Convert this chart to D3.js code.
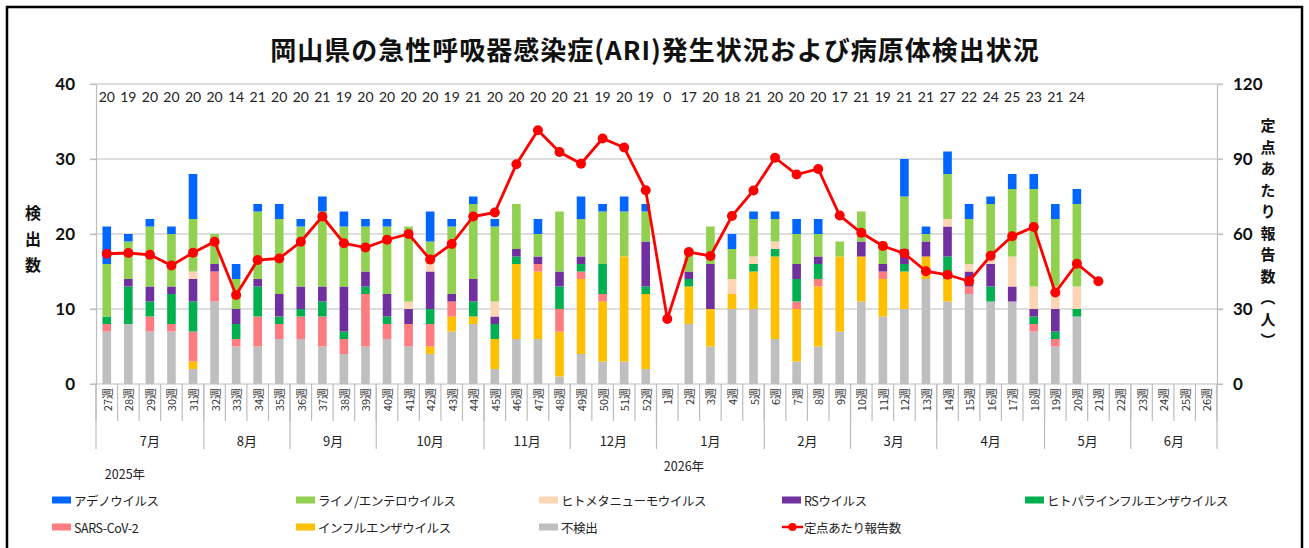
<!DOCTYPE html>
<html>
<head>
<meta charset="utf-8">
<script src="https://cdn.jsdelivr.net/npm/d3@7"></script>
<style>
  body { margin: 0; background: #fff; }
  svg { display: block; font-family: "Noto Sans CJK JP", sans-serif; }
  .num { font-family: Lato, "Noto Sans", sans-serif; }
</style>
</head>
<body>
<svg id="chart" width="1309" height="548"></svg>
<script>
// Weeks (2025 wk27 -> 2026 wk26)
const weeks = ["27週","28週","29週","30週","31週","32週","33週","34週","35週","36週","37週","38週","39週",
  "40週","41週","42週","43週","44週","45週","46週","47週","48週","49週","50週","51週","52週",
  "1週","2週","3週","4週","5週","6週","7週","8週","9週","10週","11週","12週","13週",
  "14週","15週","16週","17週","18週","19週","20週","21週","22週","23週","24週","25週","26週"];

const monthLabels = ["7月","8月","9月","10月","11月","12月","1月","2月","3月","4月","5月","6月"];
const monthWeeks = [5, 4, 4, 5, 4, 4, 5, 4, 4, 5, 4, 4];

// Number of specimens per week (top row)
const sampleCounts = [20,19,20,20,20,20,14,21,20,20,21,19,20,20,20,20,19,21,20,20,20,20,21,19,20,19,
  0,17,20,18,21,20,20,20,17,21,19,21,21,27,22,24,25,23,21,24,null,null,null,null,null,null];

// Stacked series, bottom to top
const notDetected = [7,8,7,7,2,11,5,5,6,6,5,4,5,6,5,4,7,8,2,6,6,1,4,3,3,2,
  0,8,5,10,10,6,3,5,7,11,9,10,14,11,12,11,11,7,5,9,0,0,0,0,0,0];
const influenza = [0,0,0,0,1,0,0,0,0,0,0,0,0,0,0,1,2,1,4,10,9,6,10,8,14,10,
  0,5,5,2,5,11,7,8,10,6,5,5,3,3,0,0,0,0,0,0,0,0,0,0,0,0];
const sarsCov2 = [1,0,2,1,4,4,1,4,2,3,4,2,7,2,3,3,2,0,0,0,1,3,1,1,0,0,
  0,0,0,0,0,0,1,1,0,0,1,0,0,0,1,0,0,1,1,0,0,0,0,0,0,0];
const parainfluenza = [1,5,2,4,4,0,2,4,1,1,2,1,1,1,0,2,0,2,2,1,0,3,1,4,0,1,
  0,1,0,0,1,1,3,2,0,0,0,1,0,3,0,2,0,1,1,1,0,0,0,0,0,0];
const rsVirus = [0,1,2,1,3,1,2,1,3,3,2,6,2,3,2,5,1,3,1,1,1,2,1,0,0,6,
  0,1,6,0,0,0,2,1,0,2,1,2,2,4,2,3,2,1,3,0,0,0,0,0,0,0];
const metapneumo = [0,0,0,0,1,0,0,0,0,0,0,0,0,0,1,1,0,0,2,0,0,0,0,0,0,0,
  0,0,0,2,1,1,0,0,0,0,0,0,0,1,1,1,4,3,3,3,0,0,0,0,0,0];
const rhinoEntero = [7,5,8,7,7,4,4,9,10,8,10,8,6,9,10,3,9,10,10,6,3,8,5,7,6,4,
  0,3,5,4,5,3,4,3,2,4,3,7,1,6,6,7,9,13,9,11,0,0,0,0,0,0];
const adeno = [5,1,1,1,6,0,2,1,2,1,2,2,1,1,0,4,1,1,1,0,2,0,3,1,2,1,
  0,0,0,2,1,1,2,2,0,0,0,5,1,3,2,1,2,2,2,2,0,0,0,0,0,0];

// Reports per sentinel site (right axis)
const perSite = [52.1,52.4,51.7,47.4,52.5,56.9,35.6,49.6,50.2,56.9,67.0,56.3,54.6,57.7,60.0,49.8,56.0,67.0,68.6,87.9,101.5,92.8,88.1,98.2,94.6,77.5,
  26.0,52.8,51.2,67.2,77.4,90.5,83.8,86.0,67.4,60.5,55.2,52.2,45.1,43.7,41.1,51.3,59.1,62.8,36.6,48.1,41.1,null,null,null,null,null];

const seriesKeys = ["notDetected","influenza","sarsCov2","parainfluenza","rsVirus","metapneumo","rhinoEntero","adeno"];
const seriesData = { notDetected, influenza, sarsCov2, parainfluenza, rsVirus, metapneumo, rhinoEntero, adeno };
const seriesColors = {
  adeno: "#0066FF", rhinoEntero: "#92D050", metapneumo: "#FCD5B5", rsVirus: "#7030A0",
  parainfluenza: "#00B050", sarsCov2: "#FF7C80", influenza: "#FFC000", notDetected: "#BFBFBF"
};

const table = weeks.map((w, i) => {
  const row = { week: w };
  seriesKeys.forEach((k) => (row[k] = seriesData[k][i]));
  return row;
});

const svg = d3.select("#chart");
const plotL = 96, plotR = 1217, plotT = 84, plotB = 384;
const gridColor = "#BDBDBD";

const x = d3.scaleBand().domain(weeks).range([plotL, plotR]);
const y = d3.scaleLinear().domain([0, 40]).range([plotB, plotT]);
const y2 = d3.scaleLinear().domain([0, 120]).range([plotB, plotT]);
const barW = x.bandwidth() * 0.4;
const cx = (w) => x(w) + x.bandwidth() / 2;

// outer frame
svg.append("rect")
  .attr("x", 7).attr("y", 7).attr("width", 1295).attr("height", 580)
  .attr("fill", "none").attr("stroke", "#000").attr("stroke-width", 2.5);

// title
svg.append("text")
  .attr("x", 655).attr("y", 60)
  .attr("text-anchor", "middle")
  .attr("font-size", 26).attr("font-weight", "bold").attr("fill", "#111")
  .attr("letter-spacing", 1)
  .text("岡山県の急性呼吸器感染症(ARI)発生状況および病原体検出状況");

// gridlines
svg.append("g")
  .selectAll("line")
  .data(y.ticks(4))
  .enter()
  .append("line")
  .attr("x1", 90).attr("x2", plotR + 6)
  .attr("y1", (d) => y(d)).attr("y2", (d) => y(d))
  .attr("stroke", gridColor).attr("stroke-width", 1.2);

// left axis
const leftAxis = svg.append("g")
  .attr("transform", `translate(${plotL},0)`)
  .call(d3.axisLeft(y).ticks(4).tickSize(6).tickSizeOuter(0).tickPadding(15));
leftAxis.selectAll("text").attr("class", "num").attr("font-size", 17).attr("font-weight", "bold").attr("fill", "#111");

// right axis
const rightAxis = svg.append("g")
  .attr("transform", `translate(${plotR},0)`)
  .call(d3.axisRight(y2).tickValues([0, 30, 60, 90, 120]).tickSize(6).tickSizeOuter(0).tickPadding(10));
rightAxis.selectAll("text").attr("class", "num").attr("font-size", 17).attr("font-weight", "bold").attr("fill", "#111");
svg.selectAll(".domain, .tick line").attr("stroke", gridColor).attr("stroke-width", 1.2);

// axis titles (vertical)
svg.append("text")
  .attr("x", 33).attr("y", 205)
  .style("writing-mode", "vertical-rl")
  .attr("font-size", 16).attr("font-weight", "bold").attr("fill", "#111")
  .attr("letter-spacing", 10)
  .text("検出数");
svg.append("text")
  .attr("x", 1268).attr("y", 118)
  .style("writing-mode", "vertical-rl")
  .attr("font-size", 15).attr("font-weight", "bold").attr("fill", "#111")
  .attr("letter-spacing", 6.5)
  .text("定点あたり報告数（人）");

// stacked bars
const stacked = d3.stack().keys(seriesKeys)(table);
svg.append("g")
  .selectAll("g")
  .data(stacked)
  .enter()
  .append("g")
  .attr("fill", (s) => seriesColors[s.key])
  .selectAll("rect")
  .data((s) => s.filter((d) => d[1] > d[0]))
  .enter()
  .append("rect")
  .attr("x", (d) => cx(d.data.week) - barW / 2)
  .attr("width", barW)
  .attr("y", (d) => y(d[1]))
  .attr("height", (d) => y(d[0]) - y(d[1]));

// specimen counts along the top
svg.append("g")
  .selectAll("text")
  .data(weeks.filter((w, i) => sampleCounts[i] != null))
  .enter()
  .append("text")
  .attr("class", "num")
  .attr("x", (w) => cx(w))
  .attr("y", 102)
  .attr("text-anchor", "middle")
  .attr("font-size", 14).attr("fill", "#222")
  .text((w) => sampleCounts[weeks.indexOf(w)]);

// per-site line
const line = d3.line()
  .defined((d) => d != null)
  .x((d, i) => cx(weeks[i]))
  .y((d) => y2(d));
svg.append("path")
  .datum(perSite)
  .attr("d", line)
  .attr("fill", "none").attr("stroke", "#FF0000").attr("stroke-width", 2.8);
svg.append("g")
  .selectAll("circle")
  .data(weeks.filter((w, i) => perSite[i] != null))
  .enter()
  .append("circle")
  .attr("cx", (w) => cx(w))
  .attr("cy", (w) => y2(perSite[weeks.indexOf(w)]))
  .attr("r", 5)
  .attr("fill", "#FF0000");

// week category labels and dividers
const weekAxis = svg.append("g");
weekAxis.selectAll("line")
  .data(weeks.map((w) => x(w)).concat([plotR]))
  .enter()
  .append("line")
  .attr("x1", (d) => d).attr("x2", (d) => d)
  .attr("y1", plotB).attr("y2", 421)
  .attr("stroke", gridColor).attr("stroke-width", 1.2);
weekAxis.selectAll("text")
  .data(weeks)
  .enter()
  .append("text")
  .attr("transform", (w) => `translate(${cx(w)},388) rotate(-90)`)
  .attr("text-anchor", "end")
  .attr("dominant-baseline", "central")
  .attr("font-size", 11).attr("fill", "#333")
  .text((w) => w);

// month row
let acc = 0;
const monthSpans = monthLabels.map((m, i) => {
  const start = acc;
  acc += monthWeeks[i];
  return { label: m, x0: x(weeks[start]), x1: acc < weeks.length ? x(weeks[acc]) : plotR };
});
const monthAxis = svg.append("g");
monthAxis.selectAll("line")
  .data([plotL].concat(monthSpans.map((d) => d.x1)))
  .enter()
  .append("line")
  .attr("x1", (d) => d).attr("x2", (d) => d)
  .attr("y1", plotB).attr("y2", 449)
  .attr("stroke", gridColor).attr("stroke-width", 1.2);
monthAxis.selectAll("text")
  .data(monthSpans)
  .enter()
  .append("text")
  .attr("x", (d) => (d.x0 + d.x1) / 2)
  .attr("y", 446)
  .attr("text-anchor", "middle")
  .attr("font-size", 13).attr("fill", "#222")
  .text((d) => d.label);

// years
svg.append("text").attr("x", 125).attr("y", 479).attr("text-anchor", "middle")
  .attr("font-size", 12.5).attr("fill", "#222").text("2025年");
svg.append("text").attr("x", 684).attr("y", 471).attr("text-anchor", "middle")
  .attr("font-size", 12.5).attr("fill", "#222").text("2026年");

// legend
const legendItems = [
  { key: "adeno", label: "アデノウイルス", col: 0, row: 0 },
  { key: "rhinoEntero", label: "ライノ/エンテロウイルス", col: 1, row: 0 },
  { key: "metapneumo", label: "ヒトメタニューモウイルス", col: 2, row: 0 },
  { key: "rsVirus", label: "RSウイルス", col: 3, row: 0 },
  { key: "parainfluenza", label: "ヒトパラインフルエンザウイルス", col: 4, row: 0 },
  { key: "sarsCov2", label: "SARS-CoV-2", col: 0, row: 1 },
  { key: "influenza", label: "インフルエンザウイルス", col: 1, row: 1 },
  { key: "notDetected", label: "不検出", col: 2, row: 1 },
  { key: "line", label: "定点あたり報告数", col: 3, row: 1 }
];
const legendX = [52, 296, 539, 782, 1025];
const legendY = [500, 527];
const legend = svg.append("g")
  .selectAll("g")
  .data(legendItems)
  .enter()
  .append("g")
  .attr("transform", (d) => `translate(${legendX[d.col]},${legendY[d.row]})`);
legend.filter((d) => d.key !== "line")
  .append("rect")
  .attr("x", 0).attr("y", -3.5).attr("width", 19).attr("height", 7)
  .attr("fill", (d) => seriesColors[d.key]);
const lineItem = legend.filter((d) => d.key === "line");
lineItem.append("line").attr("x1", 0).attr("x2", 21).attr("y1", 0).attr("y2", 0)
  .attr("stroke", "#FF0000").attr("stroke-width", 2.5);
lineItem.append("circle").attr("cx", 10.5).attr("cy", 0).attr("r", 4).attr("fill", "#FF0000");
legend.append("text")
  .attr("x", 22).attr("y", 0)
  .attr("dominant-baseline", "central")
  .attr("font-size", 12.5).attr("fill", "#222")
  .attr("letter-spacing", -0.4)
  .text((d) => d.label);
</script>
</body>
</html>
